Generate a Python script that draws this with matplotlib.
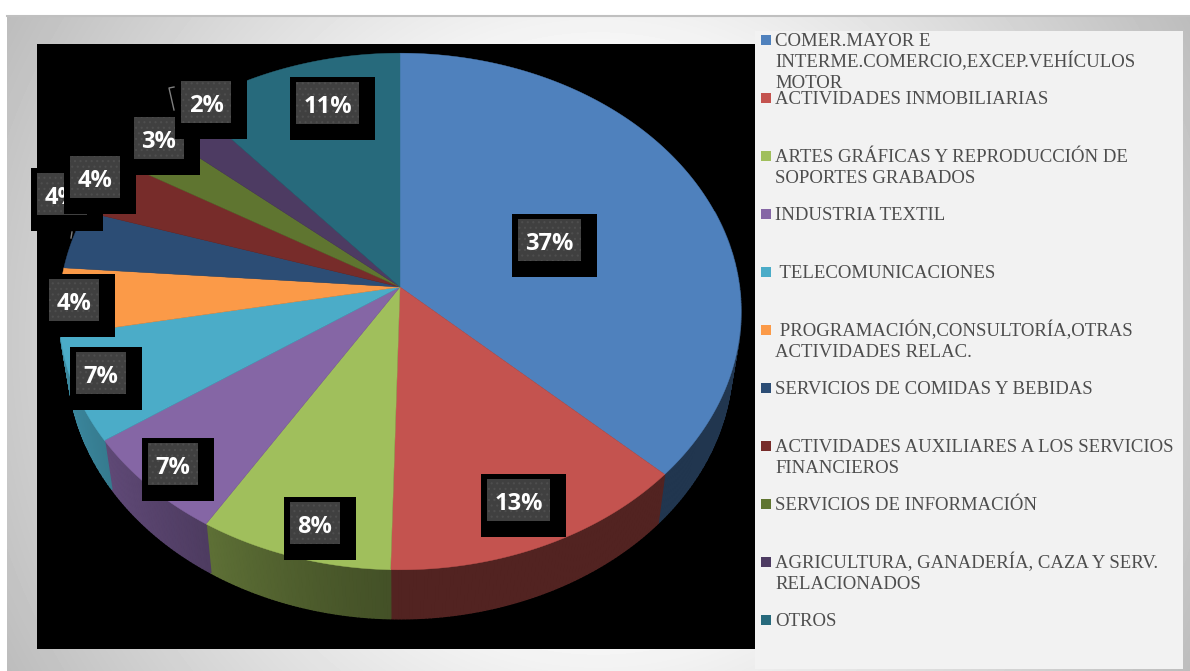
import numpy as np
import matplotlib
matplotlib.use("Agg")
import matplotlib.pyplot as plt
from matplotlib.patches import Rectangle, Polygon

categorias = [
    "COMER.MAYOR E\nINTERME.COMERCIO,EXCEP.VEHÍCULOS\nMOTOR",
    "ACTIVIDADES INMOBILIARIAS",
    "ARTES GRÁFICAS Y REPRODUCCIÓN DE\nSOPORTES GRABADOS",
    "INDUSTRIA TEXTIL",
    " TELECOMUNICACIONES",
    " PROGRAMACIÓN,CONSULTORÍA,OTRAS\nACTIVIDADES RELAC.",
    "SERVICIOS DE COMIDAS Y BEBIDAS",
    "ACTIVIDADES AUXILIARES A LOS SERVICIOS\nFINANCIEROS",
    "SERVICIOS DE INFORMACIÓN",
    "AGRICULTURA, GANADERÍA, CAZA Y SERV.\nRELACIONADOS",
    "OTROS",
]
valores = [37.0, 13.4, 8.4, 6.6, 6.65, 4.15, 3.7, 3.6, 2.75, 2.45, 11.3]
colores = ["#4f81bd", "#c4534f", "#a0bf5c", "#8566a5", "#4bacc8", "#fb9a48",
           "#2c4d75", "#772c2a", "#5f7530", "#4d3b62", "#276a7c"]
etiquetas = ["37%", "13%", "8%", "7%", "7%", "4%", "4%", "4%", "3%", "2%", "11%"]

# esquina de cada caja negra das etiquetas (px da figura)
caja_x = [512, 481, 284, 142, 70, 43, 31, 64, 128, 175, 290]
caja_y = [214, 474, 497, 438, 347, 274, 168, 151, 112, 76, 77]

# geometria do pie em perspectiva
cx, cy = 400, 287
rx, ry = 339.5, 256
k = 0.0948
fundo = 49
escala_fundo = 0.975


def borda(ang):
    # ang em radianos, horario a partir do topo
    x = np.sin(ang)
    y = np.cos(ang)
    w = 1 + k * y
    return rx * x / w, -ry * y / w


plt.rcParams["hatch.linewidth"] = 0.8
fig = plt.figure(figsize=(11.9, 6.71), dpi=100)
ax = fig.add_axes([0, 0, 1, 1])
ax.set_xlim(0, 1190)
ax.set_ylim(671, 0)
ax.axis("off")

# fundo com gradiente radial
xx, yy = np.meshgrid(np.arange(7, 1190), np.arange(15, 671))
r = np.hypot(xx - 598, yy - 343) / 680
g = np.clip(250 - 62 * (r - 0.4) / 0.6, 180, 250) / 255
ax.imshow(g, extent=(7, 1190, 671, 15), cmap="gray", vmin=0, vmax=1,
          aspect="auto", zorder=0)
ax.plot([7, 1190], [15.5, 15.5], color="#c0c0c0", lw=1.5, zorder=1)
ax.set_xlim(0, 1190)
ax.set_ylim(671, 0)

ax.add_patch(Rectangle((755, 31), 428, 638, fc="#f2f2f2", ec="none", zorder=1))
ax.add_patch(Rectangle((37, 44), 718, 605, fc="black", ec="none", zorder=1))

# lados e topo das fatias
acum = np.cumsum([0] + valores) / 100 * 2 * np.pi
for i, cor in enumerate(colores):
    ini, fim = acum[i], acum[i + 1]
    n = max(int((fim - ini) / 0.01), 2)
    angs = np.linspace(ini, fim, n + 1)
    bx, by = borda(angs)
    base = np.array(matplotlib.colors.to_rgb(cor))
    for j in range(n):
        meio = (angs[j] + angs[j + 1]) / 2
        xm = np.sin(meio)
        # so a parte da frente aparece
        if xm < 0 and np.cos(meio) > -0.19:
            continue
        if xm > 0 and np.cos(meio) > 0.3:
            continue
        f = 0.42 + 0.38 * max(-xm, 0) ** 1.3
        pts = [(cx + bx[j], cy + by[j]), (cx + bx[j + 1], cy + by[j + 1]),
               (cx + bx[j + 1] * escala_fundo, cy + by[j + 1] + fundo),
               (cx + bx[j] * escala_fundo, cy + by[j] + fundo)]
        ax.add_patch(Polygon(pts, fc=base * f, ec=base * f, lw=1.0, zorder=2))
for i, cor in enumerate(colores):
    ini, fim = acum[i], acum[i + 1]
    angs = np.linspace(ini, fim, 200)
    bx, by = borda(angs)
    pts = [(cx, cy)] + list(zip(cx + bx, cy + by))
    ax.add_patch(Polygon(pts, fc=cor, ec=cor, lw=0.3, zorder=3))

# linhas de chamada
ax.plot([174, 169, 174], [87, 88, 110], color="#7f7f7f", lw=1, zorder=3)
ax.plot([72, 71], [232, 238], color="#7f7f7f", lw=1, zorder=3)

# etiquetas, a seguinte cobre a anterior
for i, txt in enumerate(etiquetas):
    dois = len(txt) == 3
    larg = 85 if dois else 72
    larg_in = 63 if dois else 50
    z = 4 + i * 0.1
    ax.add_patch(Rectangle((caja_x[i], caja_y[i]), larg, 63, fc="black", ec="none", zorder=z))
    ix, iy = caja_x[i] + 6, caja_y[i] + 5
    ax.add_patch(Rectangle((ix, iy), larg_in, 42, fc="#404040", ec="#4e4e4e", hatch="...",
                           lw=0, zorder=z))
    ax.text(ix + larg_in / 2, iy + 22, txt, color="white", fontsize=17, family="Open Sans",
            weight="bold", ha="center", va="center_baseline", zorder=z)

# legenda
for i, (nome, cor) in enumerate(zip(categorias, colores)):
    ym = 40 + 58 * i
    ax.add_patch(Rectangle((761, ym - 5), 10, 10, fc=cor, ec="none", zorder=5))
    for j, linha in enumerate(nome.split("\n")):
        ax.text(775, ym + 6 + 21 * j, linha, family="Liberation Serif", fontsize=13.5,
                color="#4d4d4d", ha="left", va="baseline", zorder=5)

fig.savefig("out.png", dpi=100)
